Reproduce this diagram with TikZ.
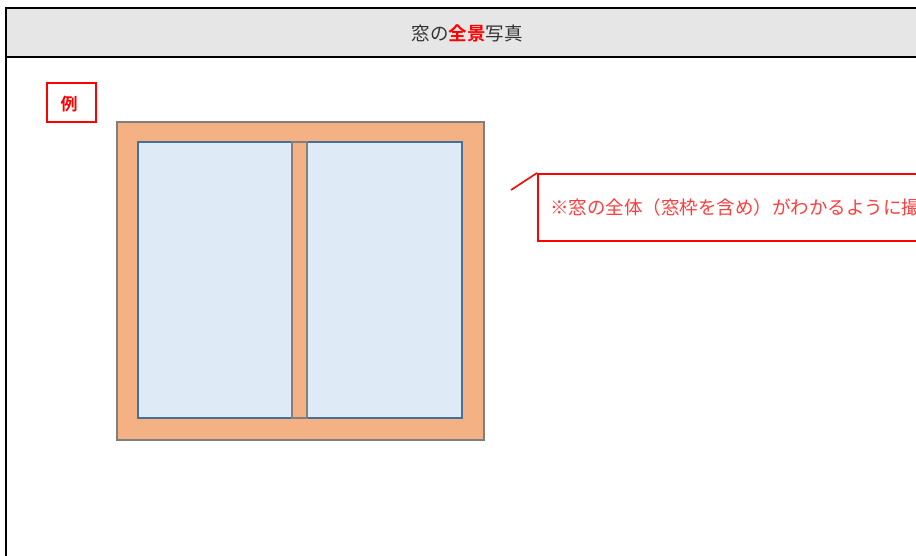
\documentclass[tikz,border=0pt]{standalone}
\usepackage{fontspec}
\setmainfont{Noto Sans CJK JP}
\newfontfamily\jpbold{Noto Sans CJK JP Bold}
\definecolor{hdrgray}{HTML}{E6E6E6}
\definecolor{frameorange}{HTML}{F4B183}
\definecolor{framegray}{HTML}{7F7F7F}
\definecolor{panefill}{HTML}{DEEAF6}
\definecolor{paneblue}{HTML}{41719C}
\definecolor{titlegray}{HTML}{333333}
\definecolor{notered}{HTML}{FF3B3B}
\tikzset{
  panebox/.style={draw=paneblue, line width=1.8pt, fill=panefill},
  mullionbox/.style={draw=framegray, line width=1.6pt, fill=frameorange},
  redbox/.style={draw=red, line width=1.8pt},
}
\begin{document}
\begin{tikzpicture}[x=1pt,y=-1pt]
\useasboundingbox (0,0) rectangle (916,556);
\clip (0,0) rectangle (916,556);
% header
\fill[hdrgray] (6,8) rectangle (940,57);
\draw[line width=2.6pt] (6,580) -- (6,8) -- (940,8);
\draw[line width=2.6pt] (6,57) -- (940,57);
\node[text=titlegray, font=\fontsize{18.5}{20}\selectfont, inner sep=0pt] (title) at (467,33)
  {窓の{\jpbold\color{red}全景}写真};
% example label
\node[redbox, minimum width=49pt, minimum height=39pt, inner sep=0pt] (rei) at (71.5,102.5) {};
\node[text=red, font=\jpbold\fontsize{17}{18}\selectfont, inner sep=0pt] (reitext) at (69,104.5) {例};
% window
\node[draw=framegray, line width=1.8pt, fill=frameorange, minimum width=367pt, minimum height=318pt, inner sep=0pt] (window) at (300.5,281) {};
\node[panebox, minimum width=154pt, minimum height=276pt, inner sep=0pt] (leftpane) at (215,280) {};
\node[panebox, minimum width=155pt, minimum height=276pt, inner sep=0pt] (rightpane) at (384.5,280) {};
\node[mullionbox, minimum width=15pt, minimum height=276pt, inner sep=0pt] (mullion) at (299.5,280) {};
% callout
\node[draw=red, line width=1.6pt, minimum width=420pt, minimum height=67pt, inner sep=0pt, anchor=north west] (note) at (537,173) {};
\node[text=notered, font=\fontsize{18.5}{20}\selectfont, anchor=west, inner sep=0pt] (notetext) at (550,207)
  {{\jpbold ※}窓の全体（窓枠を含め）がわかるように撮};
\coordinate (tail) at (511,190);
\draw[red, line width=1.6pt] (tail) -- (note.north west);
\end{tikzpicture}
\end{document}
